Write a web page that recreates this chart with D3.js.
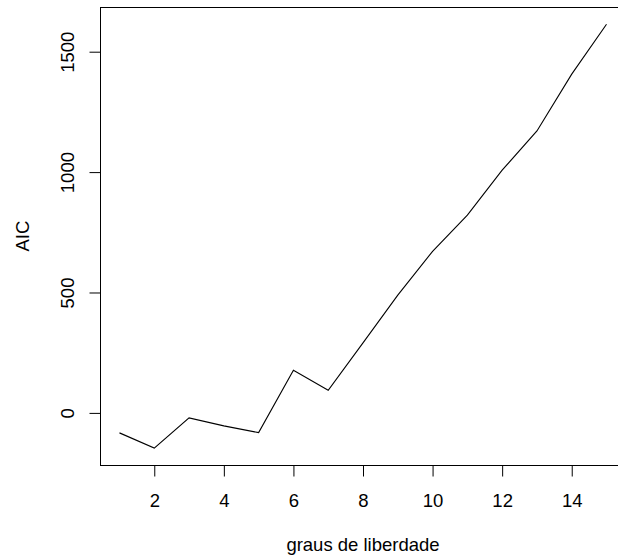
<!DOCTYPE html>
<html>
<head>
<meta charset="utf-8">
<script src="https://cdn.jsdelivr.net/npm/d3@7"></script>
<style>
  html, body { margin: 0; padding: 0; background: #fff; }
  svg { display: block; }
</style>
</head>
<body>
<svg id="chart" width="618" height="558"></svg>
<script>
// Data
const grausLiberdade = [1, 2, 3, 4, 5, 6, 7, 8, 9, 10, 11, 12, 13, 14, 15];
const aicValues = [-83, -146, -21, -54, -82, 177, 94, 291, 489, 671, 821, 1008, 1171, 1407, 1614];
const xTicks = [2, 4, 6, 8, 10, 12, 14];
const yTicks = [0, 500, 1000, 1500];
const xTitle = "graus de liberdade";
const yTitle = "AIC";

(function () {
const svg = d3.select("#chart");
const font = "'Liberation Sans', Arial, Helvetica, sans-serif";
const fontSize = 18.5;

// Plot region (R base-graphics style, right edge cropped off)
const pLeft = 100, pRight = 626, pTop = 7.3, pBottom = 465;

function pad(ext) {
  const r = ext[1] - ext[0];
  return [ext[0] - 0.04 * r, ext[1] + 0.04 * r];
}

const x = d3.scaleLinear().domain(pad(d3.extent(grausLiberdade))).range([pLeft, pRight]);
const y = d3.scaleLinear().domain(pad(d3.extent(aicValues))).range([pBottom, pTop]);

// Line
const line = d3.line().x((d, i) => x(grausLiberdade[i])).y(d => y(d));
svg.append("path")
  .datum(aicValues)
  .attr("d", line)
  .attr("fill", "none")
  .attr("stroke", "#000")
  .attr("stroke-width", 1.1);

// Box
svg.append("rect")
  .attr("x", pLeft + 0.5).attr("y", Math.round(pTop) + 0.5)
  .attr("width", pRight - pLeft).attr("height", pBottom - Math.round(pTop))
  .attr("fill", "none").attr("stroke", "#000").attr("stroke-width", 1);

// X axis
const gx = svg.append("g").attr("transform", `translate(0,${pBottom + 0.5})`)
  .call(d3.axisBottom(x).tickValues(xTicks).tickSize(11).tickPadding(0).tickFormat(d3.format("d")));
gx.select(".domain").remove();
gx.selectAll(".tick line").attr("stroke", "#000");
gx.selectAll(".tick text")
  .attr("y", 41.5).attr("dy", 0)
  .attr("font-family", font).attr("font-size", fontSize).attr("fill", "#000");

// Y axis
const gy = svg.append("g").attr("transform", `translate(${pLeft + 0.5},0)`)
  .call(d3.axisLeft(y).tickValues(yTicks).tickSize(11).tickPadding(0).tickFormat(d3.format("d")));
gy.select(".domain").remove();
gy.selectAll(".tick line").attr("stroke", "#000");
gy.selectAll(".tick text")
  .attr("transform", "rotate(-90)")
  .attr("x", 0).attr("y", -26.5).attr("dy", 0)
  .attr("text-anchor", "middle")
  .attr("font-family", font).attr("font-size", fontSize).attr("fill", "#000");

// Titles
svg.append("text")
  .attr("x", (pLeft + pRight) / 2).attr("y", 551)
  .attr("text-anchor", "middle")
  .attr("font-family", font).attr("font-size", fontSize).attr("fill", "#000")
  .text(xTitle);

svg.append("text")
  .attr("transform", `translate(29,${(pTop + pBottom) / 2}) rotate(-90)`)
  .attr("text-anchor", "middle")
  .attr("font-family", font).attr("font-size", fontSize).attr("fill", "#000")
  .text(yTitle);
})();
</script>
</body>
</html>
